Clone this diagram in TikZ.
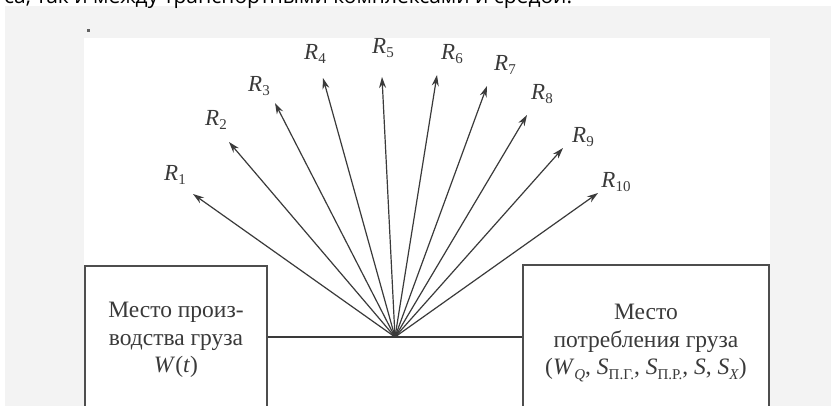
\documentclass[tikz,border=0pt]{standalone}
\usepackage{fontspec}
\setmainfont{Liberation Serif}
\newfontfamily\websans{Open Sans}
\usetikzlibrary{arrows.meta,calc}
\newcommand{\sbs}[1]{\raisebox{-0.4ex}{\fontsize{15}{15}\selectfont #1}}
\newcommand{\rlab}[1]{\textit{R}\sbs{#1}}
\definecolor{ink}{HTML}{3A3A3A}
\definecolor{panelgray}{HTML}{F3F3F3}
\tikzset{
  arr/.style={draw=ink, line width=1.2pt, -{Stealth[length=11pt,width=7pt]}},
  plain/.style={draw=ink, line width=1.2pt},
  box/.style={draw=ink!90, line width=1.5pt, align=center, inner sep=0pt,
    font=\fontsize{23.5}{27.5}\selectfont, text=ink},
  rl/.style={font=\fontsize{23}{23}\selectfont, text=ink, inner sep=0pt}
}
\begin{document}
\begin{tikzpicture}[x=1pt,y=-1pt]
\useasboundingbox (0,0) rectangle (838,406);
\begin{scope}
\clip (0,0) rectangle (838,406);
\fill[white] (0,0) rectangle (838,406);
\fill[panelgray] (5,6) rectangle (831,410);
\fill[white] (84,38) rectangle (770,410);
\node[anchor=base west, inner sep=0pt, font=\websans\fontsize{21}{21}\selectfont] (toptext) at (4,3.5) {са, так и между транспортными комплексами и средой.};
\fill[ink!80] (86.5,29.5) rectangle (89.5,32.5);
% boxes
\node[box, minimum width=182, minimum height=148] (src) at (176,340)
  {Место произ-\\водства груза\\\textit{W}(\textit{t})};
\node[box, minimum width=246, minimum height=156] (dst) at (646,343)
  {Место\\потребления груза\\(\textit{W}\sbs{\textit{Q}}, \textit{S}\sbs{П.Г.}, \textit{S}\sbs{П.Р.}, \textit{S}, \textit{S}\sbs{\textit{X}})};
\coordinate (c) at (395,337);
\draw[plain] (c) -- (c -| src.east);
\draw[plain] (c) -- (c -| dst.west);
% arrow tips
\coordinate (t1) at (193,194);
\coordinate (t2) at (229,142);
\coordinate (t3) at (275,103);
\coordinate (t4) at (323,78);
\coordinate (t5) at (382,77);
\coordinate (t6) at (437,75);
\coordinate (t7) at (487,86);
\coordinate (t8) at (527,115);
\coordinate (t9) at (563,148);
\coordinate (t10) at (598,193);
\foreach \i in {1,...,10} { \draw[arr] (c) -- (t\i); }
% labels
\node[rl] (r1) at (175,175) {\rlab{1}};
\node[rl] (r2) at (216,120) {\rlab{2}};
\node[rl] (r3) at (259,86) {\rlab{3}};
\node[rl] (r4) at (315,54) {\rlab{4}};
\node[rl] (r5) at (383,48) {\rlab{5}};
\node[rl] (r6) at (452,54) {\rlab{6}};
\node[rl] (r7) at (505,65) {\rlab{7}};
\node[rl] (r8) at (542,94) {\rlab{8}};
\node[rl] (r9) at (583,137) {\rlab{9}};
\node[rl] (r10) at (616,182) {\rlab{10}};
\end{scope}
\end{tikzpicture}
\end{document}
